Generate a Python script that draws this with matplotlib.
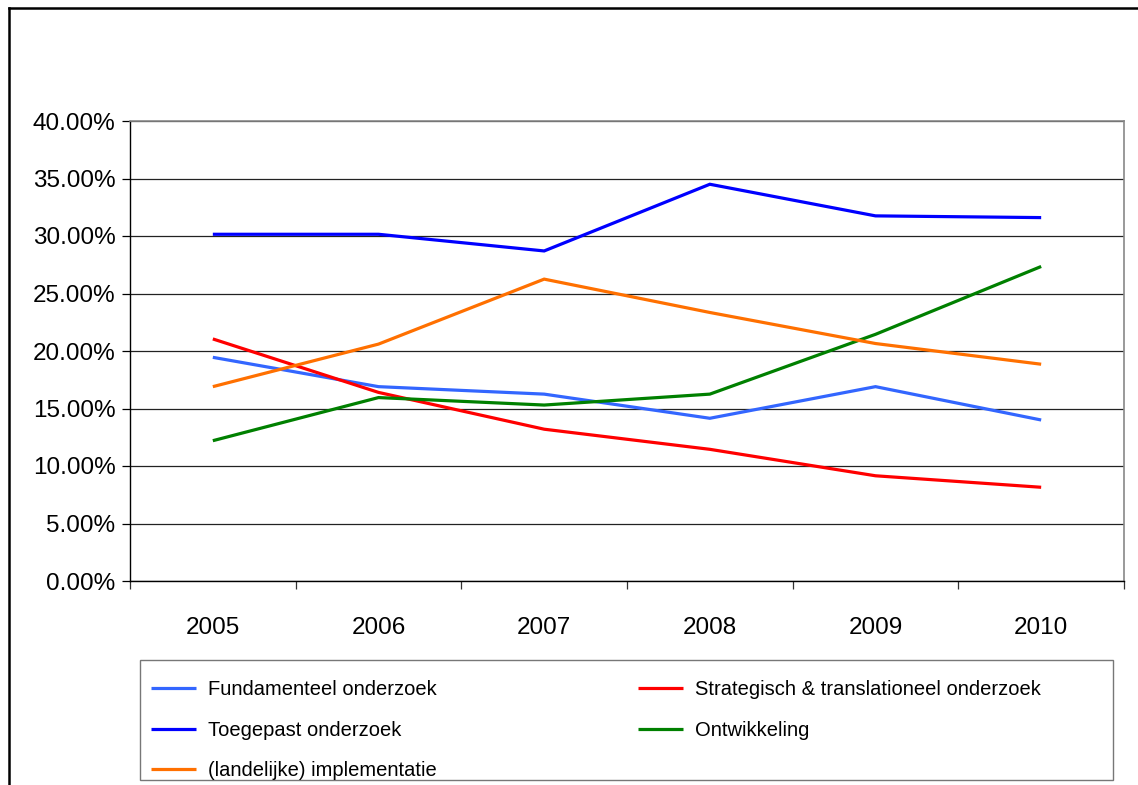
import numpy as np
import matplotlib.pyplot as plt
from matplotlib.lines import Line2D
from matplotlib.patches import Rectangle
from matplotlib.ticker import FuncFormatter

plt.rcParams['font.family'] = ['Liberation Sans', 'DejaVu Sans']

# Data (percentages)
years = ['2005', '2006', '2007', '2008', '2009', '2010']
fundamenteel = [19.45, 16.9, 16.25, 14.15, 16.9, 14.0]
strategisch = [21.05, 16.4, 13.2, 11.45, 9.15, 8.15]
toegepast = [30.15, 30.15, 28.7, 34.5, 31.75, 31.6]
ontwikkeling = [12.2, 15.95, 15.3, 16.25, 21.45, 27.35]
implementatie = [16.9, 20.6, 26.25, 23.35, 20.65, 18.85]

series = [
    ('Fundamenteel onderzoek', fundamenteel, '#3366FF'),
    ('Strategisch & translationeel onderzoek', strategisch, '#FF0000'),
    ('Toegepast onderzoek', toegepast, '#0000FF'),
    ('Ontwikkeling', ontwikkeling, '#008000'),
    ('(landelijke) implementatie', implementatie, '#FF7000'),
]

W, H = 1138, 785
fig = plt.figure(figsize=(W / 100, H / 100), dpi=100)
ax = fig.add_axes([130 / W, 1 - 581 / H, 994 / W, 460 / H])

x = np.arange(len(years))
lines = {}
for name, vals, col in series:
    ln, = ax.plot(x, vals, color=col, lw=2.3, solid_capstyle='butt',
                  solid_joinstyle='miter', label=name, zorder=3)
    lines[name] = ln

ax.set_xlim(-0.5, len(years) - 0.5)
ax.set_ylim(0, 40)
ax.set_yticks(np.arange(0, 41, 5))
ax.yaxis.set_major_formatter(FuncFormatter(lambda v, p: f'{v:.2f}%'))
ax.grid(axis='y', color='#222222', lw=0.9, zorder=1)

# category boundaries as ticks, labels at category centres
ax.set_xticks(np.arange(-0.5, len(years), 1))
ax.set_xticklabels([])
ax.set_xticks(x, minor=True)
ax.set_xticklabels(years, minor=True)
ax.tick_params(axis='x', which='major', length=6, width=0.9, color='#333333')
ax.tick_params(axis='x', which='minor', length=0, pad=26, labelsize=17.5)
ax.tick_params(axis='y', length=5.5, width=0.9, pad=5, labelsize=17.5)

for s in ['top', 'right']:
    ax.spines[s].set_color('#888888')
    ax.spines[s].set_linewidth(1.2)
for s in ['left', 'bottom']:
    ax.spines[s].set_color('black')
    ax.spines[s].set_linewidth(1.0)

# outer frame (left and top)
fig.add_artist(Line2D([8.5 / W, 8.5 / W], [0, 1 - 7.5 / H], color='black', lw=1.8))
fig.add_artist(Line2D([8.5 / W, 1], [1 - 7.5 / H, 1 - 7.5 / H], color='black', lw=1.8))

# legend box
fig.add_artist(Rectangle((140 / W, 5 / H), 973 / W, 120 / H, transform=fig.transFigure,
                         fill=False, ec='#777777', lw=1.0))

order = ['Fundamenteel onderzoek', 'Toegepast onderzoek', '(landelijke) implementatie',
         'Strategisch & translationeel onderzoek', 'Ontwikkeling']
leg = fig.legend([lines[n] for n in order], order, ncol=2, loc='upper left',
                 bbox_to_anchor=(151 / W, 1 - 680 / H), frameon=False,
                 fontsize=14.5, handlelength=2.25, handletextpad=0.6,
                 labelspacing=1.08, borderaxespad=0, borderpad=0,
                 columnspacing=9.95)

fig.savefig('out.png', dpi=100)
